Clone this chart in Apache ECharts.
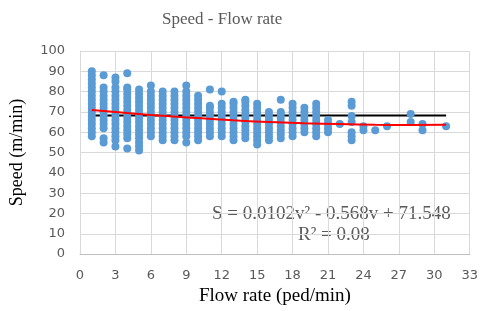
<!DOCTYPE html>
<html>
<head>
<meta charset="utf-8">
<script src="https://cdn.jsdelivr.net/npm/echarts@6/dist/echarts.min.js"></script>
<style>
    html, body { margin: 0; padding: 0; background: #fff; }
    #chart { width: 481px; height: 311px; }
</style>
</head>
<body>
<div id="chart"></div>
<script>
    // flow rate (ped/min) columns and the speeds (m/min) seen in each column
    var flowRate = [1, 2, 3, 4, 5, 6, 7, 8, 9, 10, 11, 12, 13, 14, 15, 16, 17, 18, 19, 20, 21, 22, 23, 24, 25, 26, 28, 29, 31];
    var speedByFlow = [
        [58, 60, 62, 64, 66, 68, 70, 72, 74, 76, 78, 80, 82, 84, 86, 88, 90],
        [55, 57, 62, 64, 66, 68, 70, 72, 74, 76, 78, 80, 82, 88],
        [53, 56, 58, 60, 62, 64, 66, 68, 70, 72, 74, 76, 78, 80, 82, 85, 87],
        [52, 57, 59, 61, 63, 65, 67, 69, 71, 73, 75, 77, 79, 81, 82, 89],
        [51, 53, 55, 57, 59, 61, 63, 65, 67, 69, 71, 73, 75, 77, 79, 81],
        [58, 60, 62, 64, 66, 68, 70, 72, 74, 76, 78, 80, 83],
        [56, 58, 60, 62, 64, 66, 68, 70, 72, 74, 76, 78, 80],
        [56, 58, 60, 62, 64, 66, 68, 70, 72, 74, 76, 78, 80],
        [55, 58, 60, 62, 64, 66, 68, 70, 72, 74, 76, 78, 80, 83],
        [56, 58, 60, 62, 64, 66, 68, 70, 72, 74, 76, 78],
        [58, 60, 62, 64, 66, 68, 70, 72, 73, 81],
        [58, 60, 62, 64, 66, 68, 70, 72, 74, 80],
        [56, 58, 60, 62, 64, 66, 68, 70, 72, 74, 75],
        [57, 59, 61, 63, 65, 67, 69, 71, 73, 75, 76],
        [54, 56, 58, 60, 62, 64, 66, 68, 70, 72, 74],
        [56, 58, 60, 62, 64, 66, 68, 70],
        [57, 59, 61, 63, 65, 67, 69, 70, 76],
        [58, 60, 62, 64, 66, 68, 70, 72, 74],
        [60, 62, 64, 66, 68, 70, 72],
        [58, 60, 62, 64, 66, 68, 70, 72, 74],
        [60, 62, 64, 66],
        [64],
        [56, 58, 60, 65, 68, 73, 75],
        [61, 63],
        [61],
        [63],
        [65, 69],
        [61, 64],
        [63]
    ];

    // mean speed line
    var meanFlow = [1, 31];
    var meanSpeed = [68.3, 68.3];

    // polynomial trend line
    var trendFlow = [1, 4, 7, 10, 13, 16, 19, 22, 25, 28, 31];
    var trendSpeed = [71.0, 69.5, 68.1, 67.0, 65.9, 65.0, 64.4, 64.0, 63.7, 63.6, 63.7];

    var xTicks = [0, 33, 3];
    var yTicks = [0, 100, 10];

    var points = [];
    flowRate.forEach(function (f, i) {
        speedByFlow[i].forEach(function (s) {
            points.push([f, s]);
        });
    });

    var chart = echarts.init(document.getElementById('chart'));
    chart.setOption({
        animation: false,
        title: {
            text: 'Speed - Flow rate',
            left: 157,
            top: 6,
            textStyle: {
                fontFamily: 'Liberation Serif',
                fontSize: 17,
                fontWeight: 'normal',
                color: '#595959'
            }
        },
        grid: {
            left: 78,
            right: 9,
            top: 51,
            bottom: 47
        },
        xAxis: {
            type: 'value',
            min: xTicks[0],
            max: xTicks[1],
            interval: xTicks[2],
            name: 'Flow rate (ped/min)',
            nameLocation: 'middle',
            nameGap: 28,
            nameTextStyle: {
                fontFamily: 'Liberation Serif',
                fontSize: 19,
                color: '#000'
            },
            axisLine: { lineStyle: { color: '#BFBFBF' } },
            axisTick: { show: false },
            axisLabel: {
                margin: 15,
                fontFamily: 'DejaVu Sans',
                fontSize: 13,
                color: '#595959'
            },
            splitLine: { lineStyle: { color: '#D9D9D9' } }
        },
        yAxis: {
            type: 'value',
            min: yTicks[0],
            max: yTicks[1],
            interval: yTicks[2],
            name: 'Speed (m/min)',
            nameLocation: 'middle',
            nameGap: 54,
            nameTextStyle: {
                fontFamily: 'Liberation Serif',
                fontSize: 18,
                color: '#000'
            },
            axisLine: { show: true, lineStyle: { color: '#D9D9D9' } },
            axisTick: { show: false },
            axisLabel: {
                margin: 15,
                fontFamily: 'DejaVu Sans',
                fontSize: 13,
                color: '#595959'
            },
            splitLine: { lineStyle: { color: '#D9D9D9' } }
        },
        series: [
            {
                name: 'mean',
                type: 'line',
                z: 1,
                symbol: 'none',
                data: meanFlow.map(function (f, i) { return [f, meanSpeed[i]]; }),
                lineStyle: { color: '#000', width: 2 }
            },
            {
                name: 'speed',
                type: 'scatter',
                z: 2,
                symbolSize: 8,
                data: points,
                itemStyle: { color: '#5B9BD5', opacity: 1 }
            },
            {
                name: 'trend',
                type: 'line',
                z: 3,
                symbol: 'none',
                smooth: true,
                data: trendFlow.map(function (f, i) { return [f, trendSpeed[i]]; }),
                lineStyle: { color: '#FF0000', width: 2 }
            }
        ],
        graphic: [
            {
                type: 'text',
                left: 212,
                top: 205,
                style: {
                    text: 'S = 0.0102v² - 0.568v + 71.548',
                    font: '19px "Liberation Serif"',
                    fill: '#595959'
                }
            },
            {
                type: 'text',
                left: 298,
                top: 226,
                style: {
                    text: 'R² = 0.08',
                    font: '19px "Liberation Serif"',
                    fill: '#595959'
                }
            }
        ]
    });
</script>
</body>
</html>
